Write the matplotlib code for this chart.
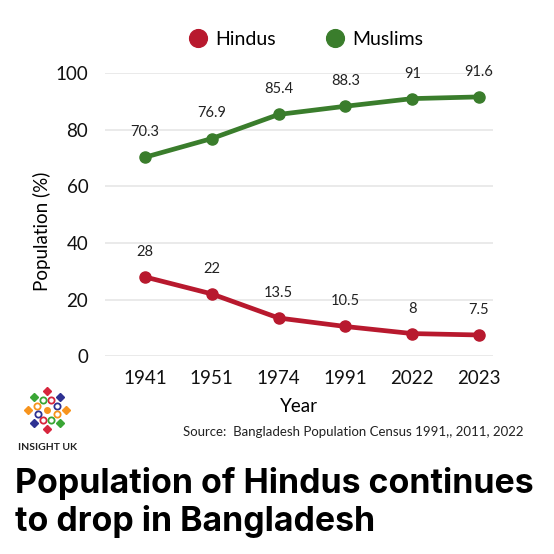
import numpy as np
import matplotlib.pyplot as plt

years = ["1941", "1951", "1974", "1991", "2022", "2023"]
hindus = [28, 22, 13.5, 10.5, 8, 7.5]
muslims = [70.3, 76.9, 85.4, 88.3, 91, 91.6]
hindu_labels = ["28", "22", "13.5", "10.5", "8", "7.5"]
muslim_labels = ["70.3", "76.9", "85.4", "88.3", "91", "91.6"]

RED = "#b8192e"
GREEN = "#3a7d2c"

plt.rcParams['font.family'] = ['Lato', 'DejaVu Sans']

fig = plt.figure(figsize=(5.54, 5.54), dpi=100)
ax = fig.add_axes([0.1895, 0.357, 0.7005, 0.511])

x = np.arange(len(years))
ax.plot(x, hindus, color=RED, lw=3.4, marker='o', ms=8, label="Hindus")
ax.plot(x, muslims, color=GREEN, lw=3.4, marker='o', ms=8, label="Muslims")

for xi, v, t in zip(x, hindus, hindu_labels):
    ax.annotate(t, (xi, v), xytext=(0, 13), textcoords='offset points',
                ha='center', va='bottom', fontsize=10.5, color='#222222')
for xi, v, t in zip(x, muslims, muslim_labels):
    ax.annotate(t, (xi, v), xytext=(0, 13), textcoords='offset points',
                ha='center', va='bottom', fontsize=10.5, color='#222222')

ax.set_xlim(-0.6, 5.21)
ax.set_ylim(0, 100)
ax.set_yticks([0, 20, 40, 60, 80, 100])
ax.set_xticks(x)
ax.set_xticklabels(years)
ax.tick_params(length=0, labelsize=13.5, pad=12, colors='#111111')
ax.tick_params(axis='x', pad=10)
ax.grid(axis='y', color='#e6e6e6', lw=1.2)
ax.set_axisbelow(True)
for s in ax.spines.values():
    s.set_visible(False)

ax.set_xlabel("Year", fontsize=13.5, labelpad=8)
ax.set_ylabel("Population (%)", fontsize=13.5)
ax.yaxis.set_label_coords(-0.138, 0.44)

ax.legend(loc='center', bbox_to_anchor=(0.52, 1.12), ncol=2, frameon=False,
          fontsize=14, handlelength=0.8, handletextpad=0.5, columnspacing=2.6,
          markerscale=1.6)
leg = ax.get_legend()
for h in leg.legend_handles:
    h.set_linestyle('None')

fig.text(0.945, 0.22, "Source:  Bangladesh Population Census 1991,, 2011, 2022",
         ha='right', va='center', fontsize=9.5, color='#222222')

# small logo (drawn as simple shapes)
lax = fig.add_axes([0.04, 0.215, 0.09, 0.09])
lax.set_xlim(-1.2, 1.2)
lax.set_ylim(-1.2, 1.2)
lax.axis('off')
cols = ["#f7941d", "#2e3192", "#d7263d", "#3aa635"]
for i, a in enumerate(np.linspace(0, 2 * np.pi, 8, endpoint=False)):
    lax.plot(np.cos(a) * 0.9, np.sin(a) * 0.9, marker='D', ms=4, color=cols[i % 4])
    lax.plot(np.cos(a + 0.4) * 0.5, np.sin(a + 0.4) * 0.5, marker='o', ms=4.5,
             mfc='none', mec=cols[(i + 1) % 4], mew=1.3)
lax.plot(0, 0, marker='o', ms=4, color="#f7941d")
fig.text(0.085, 0.193, "INSIGHT UK", ha='center', va='center', fontsize=7.5,
         fontweight='bold', color='#222222')

fig.text(0.027, 0.128, "Population of Hindus continues", ha='left', va='center',
         fontsize=24.4, fontweight='bold', color='black', family=['Inter', 'DejaVu Sans'])
fig.text(0.027, 0.058, "to drop in Bangladesh", ha='left', va='center',
         fontsize=24.4, fontweight='bold', color='black', family=['Inter', 'DejaVu Sans'])

fig.savefig("out.png", dpi=100, facecolor='white')
